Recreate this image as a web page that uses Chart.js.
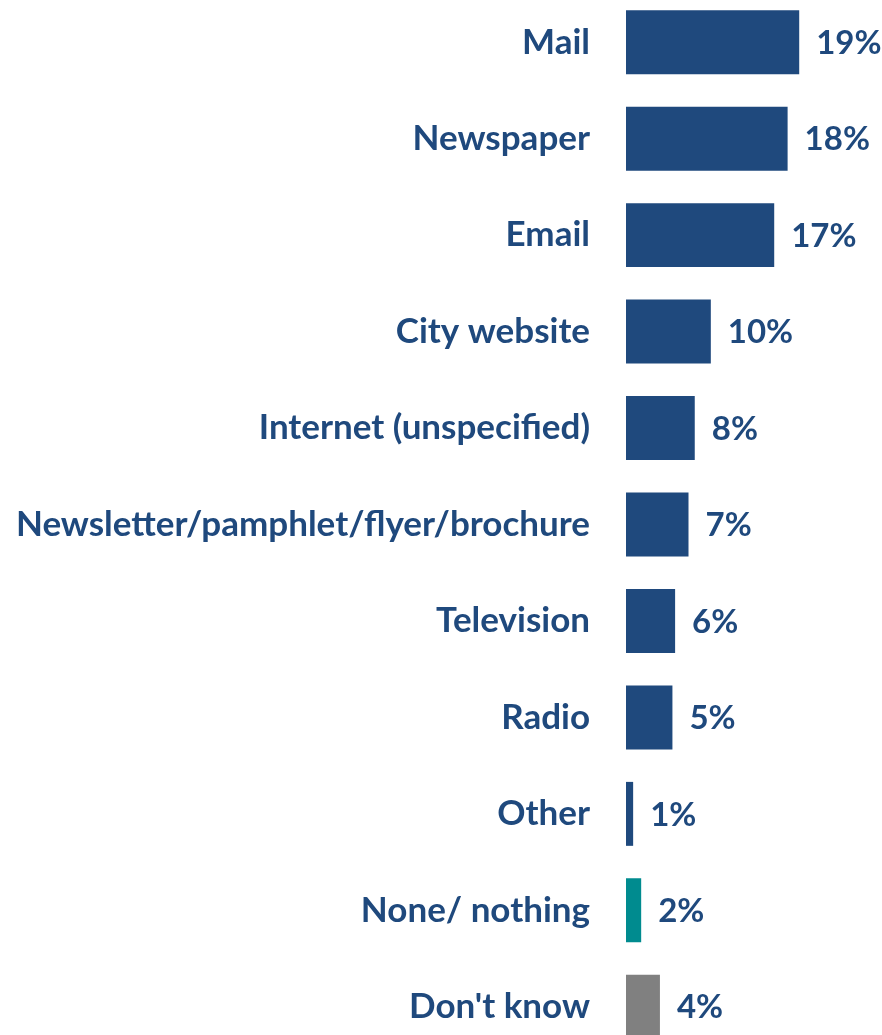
<!DOCTYPE html>
<html>
<head>
<meta charset="utf-8">
<script src="https://cdn.jsdelivr.net/npm/chart.js@4"></script>
<style>
  html, body { margin: 0; padding: 0; background: #fff; overflow: hidden; }
  #wrap { position: absolute; left: 0; top: -6px; width: 882px; height: 1061px; }
</style>
</head>
<body>
<div id="wrap"><canvas id="chart1"></canvas></div>
<script>
// Categorías y valores (porcentaje de encuestados)
const categories = [
  'Mail', 'Newspaper', 'Email', 'City website', 'Internet (unspecified)',
  'Newsletter/pamphlet/flyer/brochure', 'Television', 'Radio', 'Other',
  'None/ nothing', "Don't know"
];
const values = [19.4, 18.1, 16.6, 9.5, 7.7, 7.0, 5.5, 5.2, 0.8, 1.7, 3.8];
const barColors = [
  '#1f497d', '#1f497d', '#1f497d', '#1f497d', '#1f497d', '#1f497d',
  '#1f497d', '#1f497d', '#1f497d', '#008b8f', '#808080'
];

const textColor = '#1f497d';
const fontFamily = 'Lato, "Open Sans", sans-serif';

// Etiquetas de valor a la derecha de cada barra
const valueLabels = {
  id: 'valueLabels',
  afterDatasetsDraw(chart) {
    const ctx = chart.ctx;
    const meta = chart.getDatasetMeta(0);
    ctx.save();
    ctx.fillStyle = textColor;
    ctx.font = 'bold 33px ' + fontFamily;
    ctx.textAlign = 'left';
    ctx.textBaseline = 'middle';
    meta.data.forEach((bar, i) => {
      ctx.fillText(Math.round(values[i]) + '%', bar.x + 17, bar.y + 1);
    });
    ctx.restore();
  }
};

const ctx = document.getElementById('chart1').getContext('2d');
new Chart(ctx, {
  type: 'bar',
  data: {
    labels: categories,
    datasets: [{
      data: values,
      backgroundColor: barColors,
      barPercentage: 0.663,
      categoryPercentage: 1
    }]
  },
  options: {
    indexAxis: 'y',
    responsive: true,
    maintainAspectRatio: false,
    animation: false,
    layout: { padding: { left: 0, right: 6, top: 0, bottom: 0 } },
    scales: {
      x: {
        min: 0,
        max: 28,
        display: false,
        grid: { display: false }
      },
      y: {
        grid: { display: false, drawTicks: false },
        border: { display: false },
        ticks: {
          color: textColor,
          padding: 36,
          font: { family: fontFamily, size: 35, weight: 'bold' }
        },
        afterFit(scale) {
          scale.width = 626;
          // sin relleno vertical extra: las filas ocupan todo el alto
          scale.paddingTop = 0;
          scale.paddingBottom = 0;
        }
      }
    },
    plugins: {
      legend: { display: false },
      tooltip: { enabled: false }
    }
  },
  plugins: [valueLabels]
});
</script>
</body>
</html>
